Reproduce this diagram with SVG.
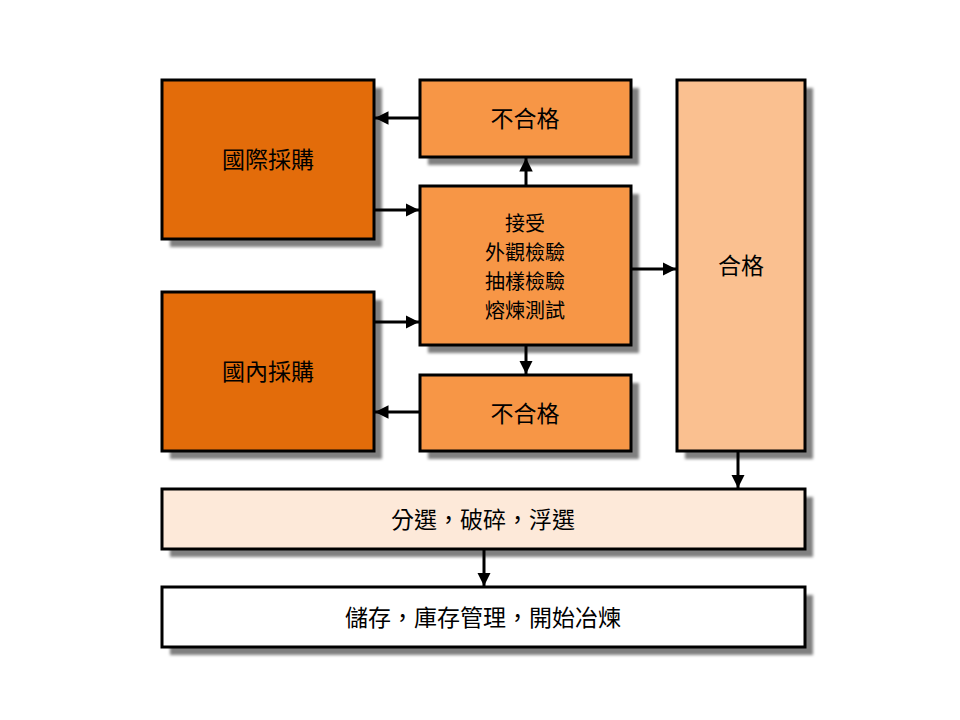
<svg xmlns="http://www.w3.org/2000/svg" width="960" height="720" viewBox="0 0 960 720">
<defs>
<filter id="sh" x="-10%" y="-10%" width="130%" height="130%">
<feGaussianBlur stdDeviation="1.5"/>
</filter>
<marker id="ah" viewBox="0 0 10 10" refX="10" refY="5" markerWidth="4.5" markerHeight="4.5" orient="auto" markerUnits="strokeWidth">
<path d="M0,0 L10,5 L0,10 z" fill="#000"/>
</marker>
<style>
.box{stroke:#000;stroke-width:3}
.shadow{fill:#808080;filter:url(#sh)}
.t{font-family:"Noto Sans CJK TC","Noto Sans CJK SC",sans-serif;font-size:23px;fill:#000;text-anchor:middle;dominant-baseline:central}
.m{font-size:20px}
.c{stroke:#000;stroke-width:3;fill:none;marker-end:url(#ah)}
</style>
</defs>
<rect width="960" height="720" fill="#fff"/>
<g id="intl">
<rect class="shadow" x="170" y="88" width="212" height="159"/>
<rect class="box" x="162" y="80" width="212" height="159" fill="#E36C0A"/>
<text class="t" x="268" y="158">國際採購</text>
</g>
<g id="domestic">
<rect class="shadow" x="170" y="300" width="212" height="159"/>
<rect class="box" x="162" y="292" width="212" height="159" fill="#E36C0A"/>
<text class="t" x="268" y="370">國內採購</text>
</g>
<g id="reject-top">
<rect class="shadow" x="428" y="88" width="211" height="77"/>
<rect class="box" x="420" y="80" width="211" height="77" fill="#F79646"/>
<text class="t" x="525" y="117">不合格</text>
</g>
<g id="inspect">
<rect class="shadow" x="428" y="194" width="211" height="159"/>
<rect class="box" x="420" y="186" width="211" height="159" fill="#F79646"/>
<text class="t m" x="525" y="222">接受</text>
<text class="t m" x="525" y="251">外觀檢驗</text>
<text class="t m" x="525" y="280">抽樣檢驗</text>
<text class="t m" x="525" y="309">熔煉測試</text>
</g>
<g id="reject-bottom">
<rect class="shadow" x="428" y="383" width="211" height="76"/>
<rect class="box" x="420" y="375" width="211" height="76" fill="#F79646"/>
<text class="t" x="525" y="412">不合格</text>
</g>
<g id="pass">
<rect class="shadow" x="685" y="88" width="128" height="371"/>
<rect class="box" x="677" y="80" width="128" height="371" fill="#FAC090"/>
<text class="t" x="741" y="264">合格</text>
</g>
<g id="sort">
<rect class="shadow" x="170" y="497" width="643" height="60"/>
<rect class="box" x="162" y="489" width="643" height="60" fill="#FDE9D9"/>
<text class="t" x="483" y="518">分選，破碎，浮選</text>
</g>
<g id="store">
<rect class="shadow" x="170" y="595" width="643" height="60"/>
<rect class="box" x="162" y="587" width="643" height="60" fill="#FFFFFF"/>
<text class="t" x="483" y="616">儲存，庫存管理，開始冶煉</text>
</g>
<g id="connectors">
<line class="c" x1="420" y1="118" x2="375" y2="118"/>
<line class="c" x1="374" y1="210" x2="419" y2="210"/>
<line class="c" x1="374" y1="322" x2="419" y2="322"/>
<line class="c" x1="420" y1="412" x2="375" y2="412"/>
<line class="c" x1="526" y1="186" x2="526" y2="158"/>
<line class="c" x1="526" y1="345" x2="526" y2="374"/>
<line class="c" x1="631" y1="269" x2="676" y2="269"/>
<line class="c" x1="738" y1="451" x2="738" y2="488"/>
<line class="c" x1="484" y1="549" x2="484" y2="586"/>
</g>
</svg>
